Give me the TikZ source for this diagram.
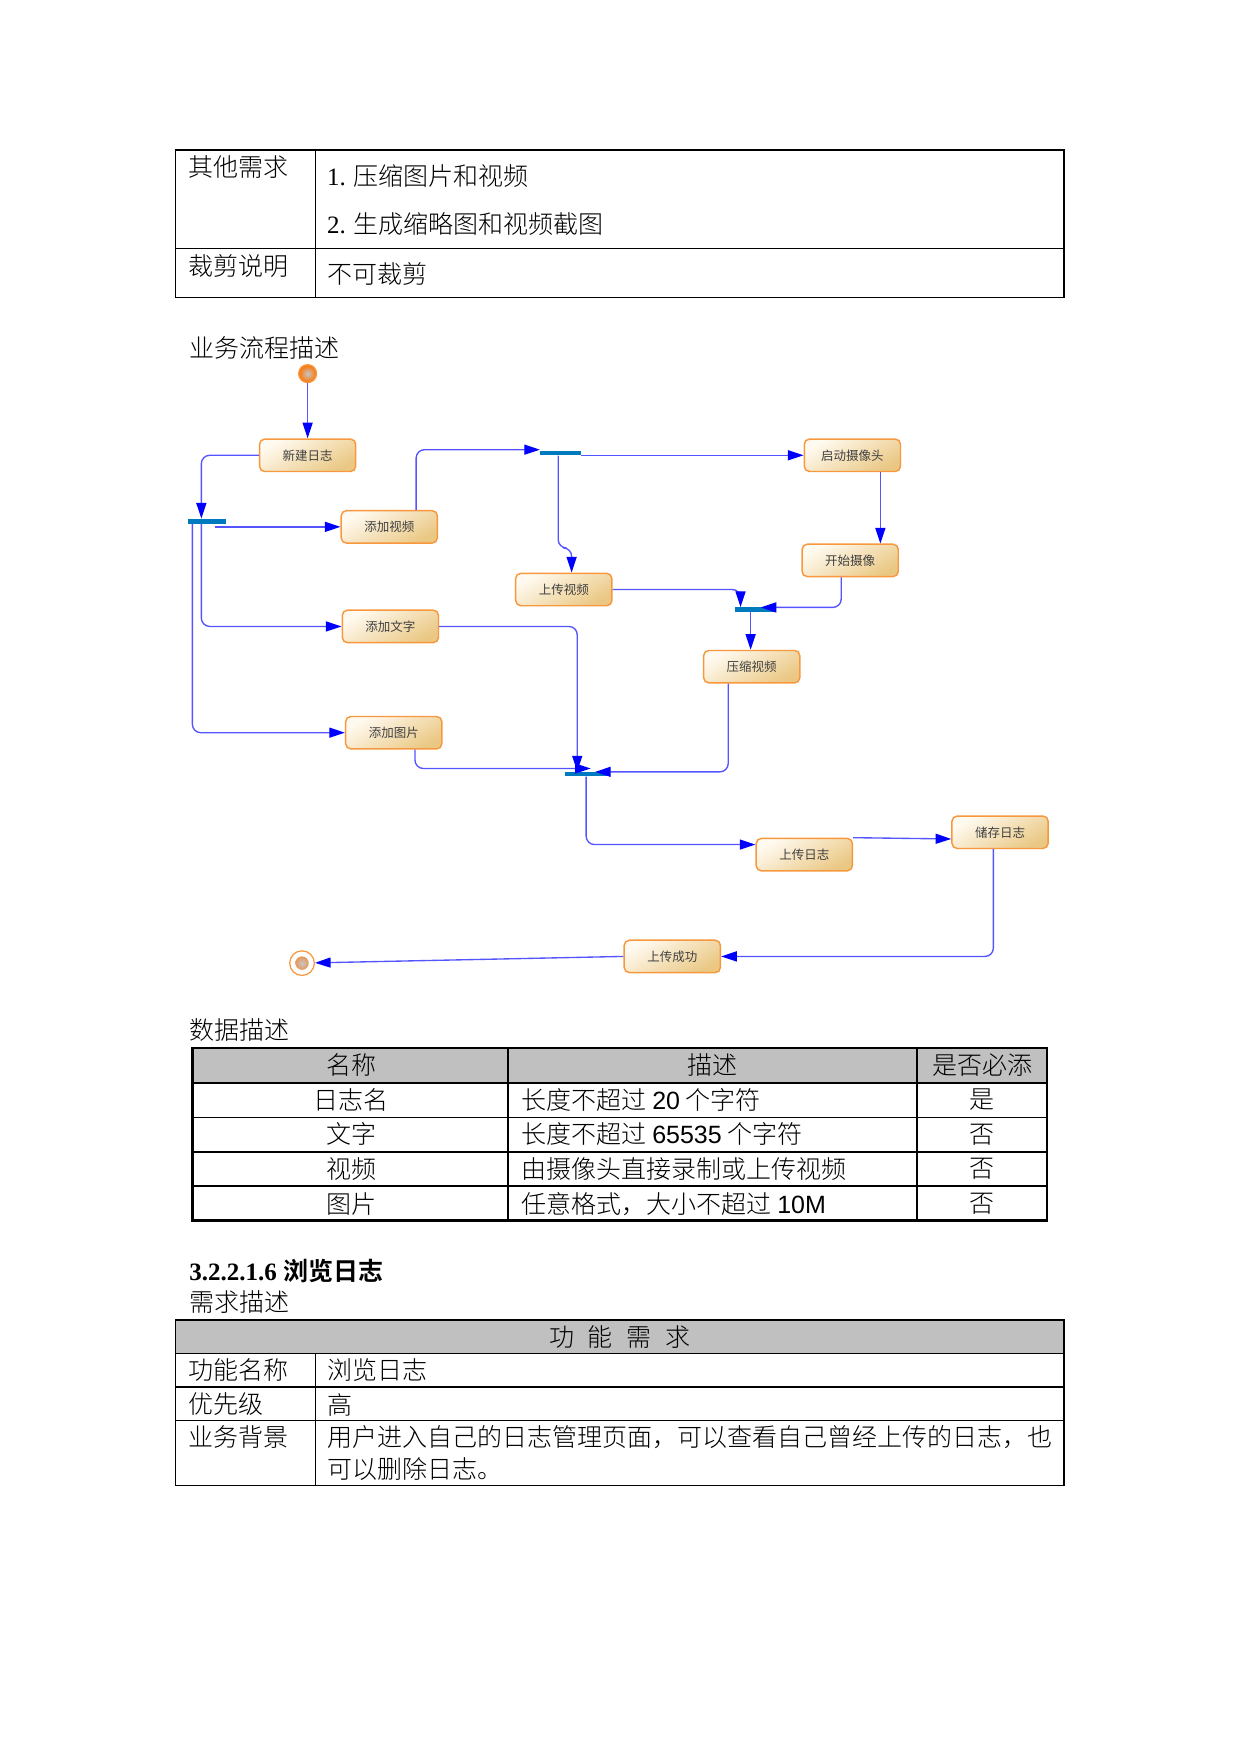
\documentclass[tikz,border=0pt]{standalone}
\usepackage{fontspec}
\setmainfont{Liberation Serif}
\newfontfamily\cjk[UprightFont={* Light},BoldFont={* Bold}]{Noto Sans CJK SC}
\newfontfamily\cjkbox{Noto Sans CJK SC}
\newfontfamily\arial{Liberation Sans}
\usetikzlibrary{arrows.meta}
\newlength\px
\setlength\px{0.5368pt}
\definecolor{boxline}{RGB}{248,152,62}
\definecolor{boxlight}{RGB}{255,250,240}
\definecolor{boxtan}{RGB}{234,200,132}
\definecolor{flowline}{RGB}{85,85,255}
\definecolor{barblue}{RGB}{0,122,190}
\definecolor{headgray}{RGB}{192,192,192}
\begin{document}
\begin{tikzpicture}[x=0.5368pt,y=-0.5368pt,
  every node/.style={inner sep=0pt,font=\cjk\fontsize{12}{14}\selectfont},
  activity/.style={rectangle,rounded corners=2.5pt,draw=boxline,line width=0.7pt,
        top color=boxlight,bottom color=boxtan,shading angle=30,
        minimum width=86\px,minimum height=29\px,
        font=\cjkbox\fontsize{6}{7}\selectfont,text=black!75},
  forkbar/.style={rectangle,fill=barblue,minimum height=4\px},
  startdot/.style={circle,draw=boxline,line width=0.6pt,minimum size=16\px,
        inner color=gray!45,outer color=orange!90!red},
  enddot/.style={circle,draw=boxline,line width=0.6pt,minimum size=22\px,
        path picture={\shade[inner color=gray!45,outer color=orange!90!red]
          (path picture bounding box.center) circle (6\px);}},
  flow/.style={draw=flowline,line width=0.65pt,rounded corners=4pt,
        -{Triangle[length=7.5pt,width=4.8pt,color=blue]}},
  cell/.style={anchor=west},
  rule/.style={line width=0.7pt}]
\useasboundingbox (0,0) rectangle (1109,1568);

% table: other requirements
\draw[rule] (157,134) rectangle (951,266) (282,134) -- (282,266) (157,222) -- (951,222);
\node[cell] (other) at (168,149) {其他需求};
\node[cell] (other1) at (292,157) {{\rmfamily 1.} 压缩图片和视频};
\node[cell] (other2) at (292,200) {{\rmfamily 2.} 生成缩略图和视频截图};
\node[cell] (cut) at (168,238) {裁剪说明};
\node[cell] (cut1) at (292,245) {不可裁剪};

\node[cell] (flowtitle) at (169,311) {业务流程描述};

% activity diagram
\node[startdot] (start) at (275,334) {};
\node[activity] (newlog) at (275,407) {新建日志};
\node[forkbar,minimum width=34\px] (f1) at (185,466) {};
\node[activity] (addvideo) at (348,471) {添加视频};
\node[activity] (addtext) at (349,560) {添加文字};
\node[activity] (addpic) at (352,655) {添加图片};
\node[forkbar,minimum width=36\px] (f2) at (501,405) {};
\node[activity] (camera) at (762,407) {启动摄像头};
\node[activity] (upvideo) at (504,527) {上传视频};
\node[activity] (record) at (760,501) {开始摄像};
\node[forkbar,minimum width=36\px] (f3) at (675,545) {};
\node[activity] (compress) at (672,596) {压缩视频};
\node[forkbar,minimum width=37\px] (f4) at (524,692) {};
\node[activity] (uplog) at (719,764) {上传日志};
\node[activity] (savelog) at (894,744) {储存日志};
\node[activity] (success) at (601,855) {上传成功};
\node[enddot] (end) at (270,861) {};

\coordinate (f1a) at ([xshift=7\px]f1.south);
\draw[flow] (start) -- (newlog);
\draw[flow] (newlog.west) -| ([xshift=-5\px]f1.north);
\draw[flow] (f1a |- addvideo.west) -- (addvideo.west);
\draw[flow] ([xshift=-5\px]f1.south) |- (addtext.west);
\draw[flow] ([xshift=-13\px]f1.south) |- (addpic.west);
\draw[flow] ([xshift=24\px]addvideo.north) |- ([yshift=3\px]f2.west);
\draw[flow] (f2.east |- camera.west) -- (camera.west);
\draw[flow] ([xshift=-2\px]f2.south) |- ([xshift=7\px,yshift=22\px]upvideo.north)
  -- ([xshift=7\px]upvideo.north);
\draw[flow] ([xshift=25\px]camera.south) -- ([xshift=27\px]record.north);
\draw[flow] (upvideo.east) -| ([xshift=-13\px]f3.north);
\draw[flow] ([xshift=-8\px]record.south) |- ([xshift=5\px,yshift=2\px]f3.center);
\draw[flow] ([xshift=-4\px]f3.south) -- ([xshift=-1\px]compress.north);
\draw[flow] (addtext.east) -| ([xshift=-8\px]f4.north);
\draw[flow] ([xshift=19\px]addpic.south) |- ([xshift=4\px,yshift=5\px]f4.center);
\draw[flow] ([xshift=-21\px]compress.south) |- ([xshift=8\px,yshift=2\px]f4.center);
\draw[flow] (f4.south) |- ([yshift=9\px]uplog.west);
\draw[flow] (uplog.north east) -- ([yshift=-6\px]savelog.west);
\draw[flow] ([xshift=-6\px]savelog.south) |- (success.east);
\draw[flow] (success.west) -- (end);

% data description
\node[cell] (datatitle) at (169,921) {数据描述};
\fill[headgray] (172,937) rectangle (936,968);
\draw[line width=0.9pt] (172,968) -- (936,968) (172,999) -- (936,999)
  (172,1030) -- (936,1030) (172,1060) -- (936,1060)
  (454,937) -- (454,1091) (820,937) -- (820,1091);
\draw[line width=1.2pt] (172,937) rectangle (936,1091);
\node (hname) at (314,952) {名称};
\node (hdesc) at (637,952) {描述};
\node (hmust) at (878,952) {是否必添};
\node (n1) at (314,983) {日志名};
\node (n2) at (314,1014) {文字};
\node (n3) at (314,1045) {视频};
\node (n4) at (314,1076) {图片};
\node[cell] (d1) at (466,983) {长度不超过 {\arial 20} 个字符};
\node[cell] (d2) at (466,1014) {长度不超过 {\arial 65535} 个字符};
\node[cell] (d3) at (466,1045) {由摄像头直接录制或上传视频};
\node[cell] (d4) at (466,1076) {任意格式，大小不超过 {\arial 10M}};
\node (m1) at (878,983) {是};
\node (m2) at (878,1014) {否};
\node (m3) at (878,1045) {否};
\node (m4) at (878,1076) {否};

% browse log
\node[cell] (section) at (169,1136) {{\rmfamily\bfseries 3.2.2.1.6 }{\bfseries 浏览日志}};
\node[cell] (reqtitle) at (169,1164) {需求描述};
\fill[headgray] (157,1180) rectangle (951,1210);
\draw[rule] (157,1180) rectangle (951,1328) (157,1210) -- (951,1210)
  (157,1270) -- (951,1270) (282,1210) -- (282,1328);
\draw[line width=1.2pt] (157,1240) -- (951,1240);
\node (freq) at (554,1195) {功\hspace{0.55em}能\hspace{0.55em}需\hspace{0.55em}求};
\node[cell] (fname) at (168,1225) {功能名称};
\node[cell] (fname1) at (292,1225) {浏览日志};
\node[cell] (prio) at (168,1255) {优先级};
\node[cell] (prio1) at (292,1256) {高};
\node[cell] (bg) at (168,1285) {业务背景};
\node[cell] (bg1) at (292,1285) {用户进入自己的日志管理页面，可以查看自己曾经上传的日志，也};
\node[cell] (bg2) at (292,1313) {可以删除日志。};
\end{tikzpicture}
\end{document}
